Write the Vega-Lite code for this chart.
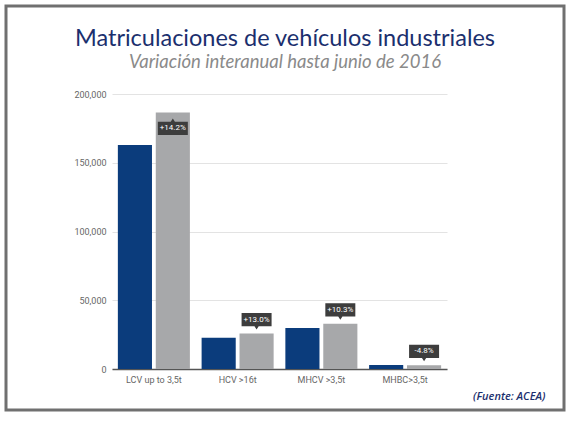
{
  "$schema": "https://vega.github.io/schema/vega-lite/v6.json",
  "autosize": "none",
  "padding": {"left": 6, "top": 6, "right": 7, "bottom": 14},
  "width": 558,
  "height": 404,
  "background": "white",
  "title": {
    "text": "Matriculaciones de vehículos industriales",
    "subtitle": "Variación interanual hasta junio de 2016",
    "anchor": "middle",
    "frame": "group",
    "offset": -65,
    "font": "Lato",
    "fontSize": 23.5,
    "fontWeight": "normal",
    "color": "#1b2f6e",
    "subtitleFont": "Lato",
    "subtitleFontSize": 18.5,
    "subtitleFontStyle": "italic",
    "subtitleColor": "#8a8a8a",
    "subtitlePadding": 2
  },
  "data": {
    "values": [
      {"tipo": "LCV up to 3,5t", "periodo": "2015", "matriculaciones": 163000, "variacion": "+14.2%"},
      {"tipo": "LCV up to 3,5t", "periodo": "2016", "matriculaciones": 186500, "variacion": "+14.2%"},
      {"tipo": "HCV >16t", "periodo": "2015", "matriculaciones": 22800, "variacion": "+13.0%"},
      {"tipo": "HCV >16t", "periodo": "2016", "matriculaciones": 25800, "variacion": "+13.0%"},
      {"tipo": "MHCV >3,5t", "periodo": "2015", "matriculaciones": 29800, "variacion": "+10.3%"},
      {"tipo": "MHCV >3,5t", "periodo": "2016", "matriculaciones": 32900, "variacion": "+10.3%"},
      {"tipo": "MHBC>3,5t", "periodo": "2015", "matriculaciones": 2900, "variacion": "-4.8%"},
      {"tipo": "MHBC>3,5t", "periodo": "2016", "matriculaciones": 2760, "variacion": "-4.8%"}
    ]
  },
  "encoding": {
    "x": {
      "field": "tipo",
      "type": "nominal",
      "sort": null,
      "scale": {"range": [106, 441], "paddingInner": 0.14, "paddingOuter": 0.07},
      "axis": {
        "title": "(Fuente: ACEA)",
        "offset": -41,
        "labelAngle": 0,
        "labelFont": "Roboto",
        "labelFontSize": 9,
        "labelColor": "#666666",
        "labelPadding": 6,
        "ticks": false,
        "domainColor": "#555555",
        "domainWidth": 1.5,
        "titleFont": "Open Sans",
        "titleFontSize": 11,
        "titleFontStyle": "italic",
        "titleFontWeight": 600,
        "titleColor": "#1b2f6e",
        "titleAlign": "right",
        "titleAnchor": null,
        "titleX": 539,
        "titleY": 30,
        "titleBaseline": "alphabetic"
      }
    },
    "xOffset": {
      "field": "periodo",
      "type": "nominal",
      "scale": {"paddingInner": 0.1, "paddingOuter": 0}
    },
    "y": {
      "field": "matriculaciones",
      "type": "quantitative",
      "scale": {"domain": [0, 200000], "range": [363, 88], "nice": false},
      "axis": {
        "title": null,
        "offset": -104,
        "values": [0, 50000, 100000, 150000, 200000],
        "format": ",.0f",
        "labelFont": "Roboto",
        "labelFontSize": 9,
        "labelColor": "#666666",
        "labelPadding": 4,
        "ticks": false,
        "domain": false,
        "gridColor": "#e3e3e3",
        "gridWidth": 1
      }
    }
  },
  "layer": [
    {
      "mark": {"type": "bar"},
      "encoding": {
        "color": {
          "field": "periodo",
          "type": "nominal",
          "scale": {"range": ["#0b3c7c", "#a7a8aa"]},
          "legend": null
        }
      }
    },
    {
      "transform": [{"filter": "datum.periodo == '2016' && datum.tipo != 'LCV up to 3,5t'"}],
      "mark": {
        "type": "point",
        "filled": true,
        "opacity": 1,
        "color": "#3d3d3d",
        "size": 900,
        "yOffset": -4,
        "shape": "M-1,-1.1 L1,-1.1 L1,-0.22 L0.14,-0.22 L0,0 L-0.14,-0.22 L-1,-0.22 Z"
      }
    },
    {
      "transform": [{"filter": "datum.periodo == '2016' && datum.tipo != 'LCV up to 3,5t'"}],
      "mark": {
        "type": "text",
        "color": "white",
        "font": "Roboto",
        "fontSize": 8,
        "baseline": "middle",
        "yOffset": -13.8
      },
      "encoding": {"text": {"field": "variacion"}}
    },
    {
      "transform": [{"filter": "datum.periodo == '2016' && datum.tipo == 'LCV up to 3,5t'"}],
      "mark": {
        "type": "point",
        "filled": true,
        "opacity": 1,
        "color": "#3d3d3d",
        "size": 900,
        "yOffset": 6,
        "shape": "M-1,1.1 L-1,0.22 L-0.14,0.22 L0,0 L0.14,0.22 L1,0.22 L1,1.1 Z"
      }
    },
    {
      "transform": [{"filter": "datum.periodo == '2016' && datum.tipo == 'LCV up to 3,5t'"}],
      "mark": {
        "type": "text",
        "color": "white",
        "font": "Roboto",
        "fontSize": 8,
        "baseline": "middle",
        "yOffset": 15.8
      },
      "encoding": {"text": {"field": "variacion"}}
    }
  ],
  "config": {
    "view": {"stroke": "#707070", "strokeWidth": 3, "fill": "white"}
  }
}
